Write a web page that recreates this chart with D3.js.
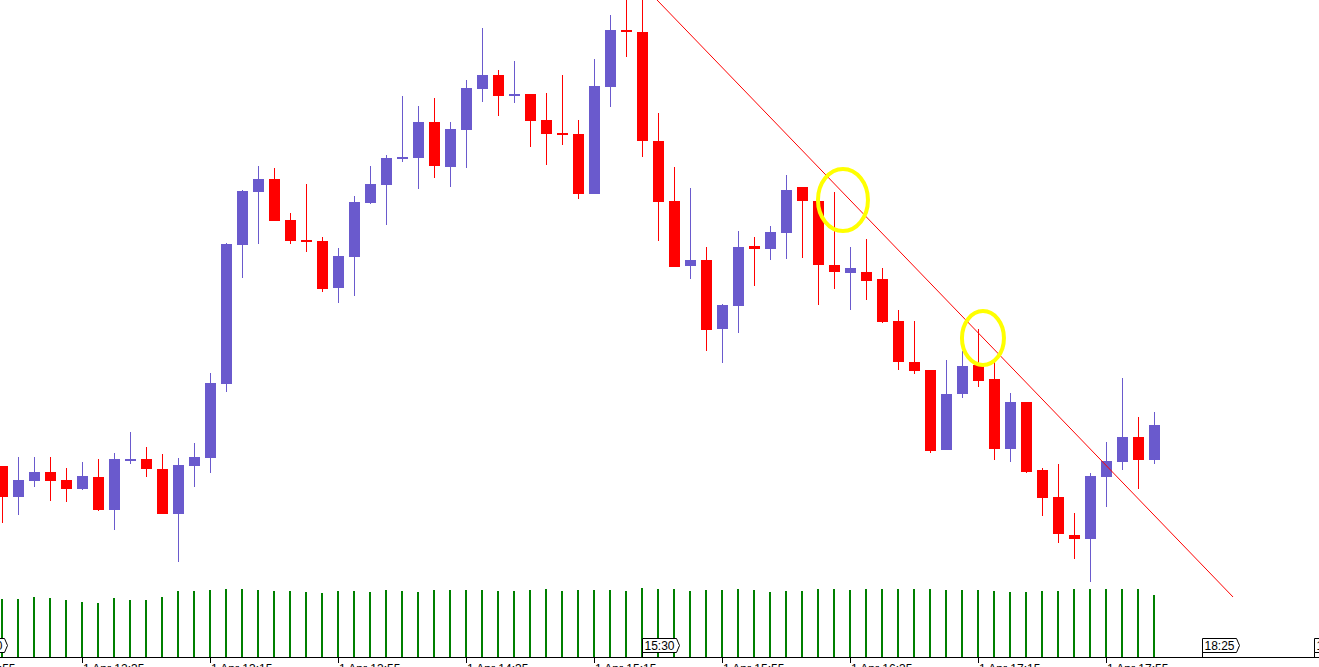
<!DOCTYPE html>
<html><head><meta charset="utf-8">
<script src="https://cdn.jsdelivr.net/npm/d3@7"></script>
<style>html,body{margin:0;padding:0;background:#fff;overflow:hidden}svg{display:block}</style>
</head><body><svg id="c" width="1319" height="667"></svg>
<script>
// 5-minute candles, 1 Apr, starting 12:10 (index 0)
const opens  = [234,203,219,228,220,211,223,190,240,241,231,186,234,242,316,455,508,521,480,460,459,412,443,497,515,541,542,578,533,570,611,625,604,606,580,567,566,506,613,670,668,559,499,434,440,371,394,454,451,467,513,499,435,427,428,421,379,338,330,250,306,335,321,251,298,230,203,165,161,223,238,263,240];
const highs  = [234,243,243,243,232,238,241,247,268,253,246,242,257,327,457,510,534,532,487,516,463,452,504,534,545,604,594,602,578,620,672,630,639,606,607,625,580,641,685,705,708,587,533,512,453,396,469,463,474,525,513,500,508,453,461,432,390,379,330,340,349,371,338,307,298,232,236,187,227,258,322,283,288];
const lows   = [177,185,213,199,198,210,189,170,236,223,186,138,213,227,308,422,456,479,456,448,408,397,404,496,475,538,511,522,513,532,598,584,597,553,535,555,501,506,593,643,543,459,433,421,349,337,367,414,440,441,442,395,411,390,400,377,330,326,247,250,302,313,240,238,227,184,157,141,118,193,230,211,236];
const closes = [203,220,228,219,211,224,190,241,241,231,186,235,243,317,456,509,521,479,459,458,411,444,498,516,542,543,578,534,571,612,625,604,606,579,566,565,506,614,670,668,559,498,433,440,370,395,453,451,468,510,499,435,428,432,419,378,338,329,249,306,334,319,251,298,228,202,166,161,224,239,263,240,275];
const volumes = [58,58,60,59,57,55,54,59,57,57,60,66,66,67,68,68,67,66,66,65,64,66,66,65,67,66,65,67,67,67,67,66,66,67,68,66,67,67,67,66,69,68,68,66,67,67,68,67,65,66,66,68,68,67,68,68,68,68,68,67,67,67,66,65,65,66,66,68,68,68,68,68,62];
const tickIndex  = [-3,5,13,21,29,37,45,53,61,69];
const tickLabels = ["1 Apr 11:55","1 Apr 12:35","1 Apr 13:15","1 Apr 13:55","1 Apr 14:35","1 Apr 15:15","1 Apr 15:55","1 Apr 16:35","1 Apr 17:15","1 Apr 17:55"];
const flagIndex  = [-2,40,75,82];
const flagLabels = ["12:00","15:30","18:25","19:00"];
const trendIndex = [40.94,76.94];
const trendPrice = [700,103];
const circleIndex = [52.56,61.31];
const circlePrice = [500,362];

const svg = d3.select("#c");
const x = d3.scaleLinear().domain([0,72]).range([2,1154]);
const y = d3.scaleLinear().domain([0,700]).range([700,0]);
const yv = d3.scaleLinear().domain([0,100]).range([657,557]);
const BLUE="#6a5acd", RED="#ff0000";
const data = opens.map((o,i)=>({i,o,h:highs[i],l:lows[i],c:closes[i],v:volumes[i]}));

// volume
svg.append("g").selectAll("rect").data(data).join("rect")
  .attr("x",d=>x(d.i)-1).attr("width",2)
  .attr("y",d=>yv(d.v)).attr("height",d=>yv(0)-yv(d.v))
  .attr("fill","#008000").attr("shape-rendering","crispEdges");

// candles
const g = svg.append("g").attr("shape-rendering","crispEdges");
g.selectAll("rect.w").data(data).join("rect").attr("class","w")
  .attr("x",d=>x(d.i)).attr("width",1)
  .attr("y",d=>y(d.h)).attr("height",d=>y(d.l)-y(d.h))
  .attr("fill",d=>d.c>=d.o?BLUE:RED);
g.selectAll("rect.b").data(data).join("rect").attr("class","b")
  .attr("x",d=>x(d.i)-5).attr("width",11)
  .attr("y",d=>y(Math.max(d.o,d.c)))
  .attr("height",d=>Math.max(2,y(Math.min(d.o,d.c))-y(Math.max(d.o,d.c))))
  .attr("fill",d=>d.c>=d.o?BLUE:RED);

// trend line
svg.append("line")
  .attr("x1",x(trendIndex[0])).attr("y1",y(trendPrice[0]))
  .attr("x2",x(trendIndex[1])).attr("y2",y(trendPrice[1]))
  .attr("stroke",RED).attr("stroke-width",1);

// yellow ellipses
svg.append("g").selectAll("ellipse").data(circleIndex).join("ellipse")
  .attr("cx",(d,k)=>x(d)).attr("cy",(d,k)=>y(circlePrice[k]))
  .attr("rx",(d,k)=>k===0?25:21).attr("ry",(d,k)=>k===0?31:27)
  .attr("fill","none").attr("stroke","#ffff00").attr("stroke-width",4);

// axis
const ax = svg.append("g").attr("shape-rendering","crispEdges");
ax.append("line").attr("x1",0).attr("x2",1319).attr("y1",657.5).attr("y2",657.5).attr("stroke","#000");
tickIndex.forEach((t,k)=>{
  const px = Math.round(x(t))+0.5;
  ax.append("line").attr("x1",px).attr("x2",px).attr("y1",657).attr("y2",663).attr("stroke","#000");
  svg.append("text").attr("x",x(t)+1).attr("y",673)
    .attr("font-family","Liberation Sans, Arial, sans-serif").attr("font-size",12).attr("fill","#000")
    .text(tickLabels[k]);
});

// flags
flagIndex.forEach((t,k)=>{
  const px = Math.round(x(t))+0.5;
  const fg = svg.append("g");
  fg.append("line").attr("x1",px).attr("x2",px).attr("y1",652).attr("y2",657).attr("stroke","#000").attr("shape-rendering","crispEdges");
  fg.append("path")
    .attr("d",`M${px},638.5 H${px+34} L${px+37},645.5 L${px+34},652.5 H${px} Z`)
    .attr("fill","#fff").attr("stroke","#000").attr("stroke-width",1);
  fg.append("text").attr("x",px+2).attr("y",650)
    .attr("font-family","Liberation Sans, Arial, sans-serif").attr("font-size",12).attr("fill","#000")
    .text(flagLabels[k]);
});
</script></body></html>
